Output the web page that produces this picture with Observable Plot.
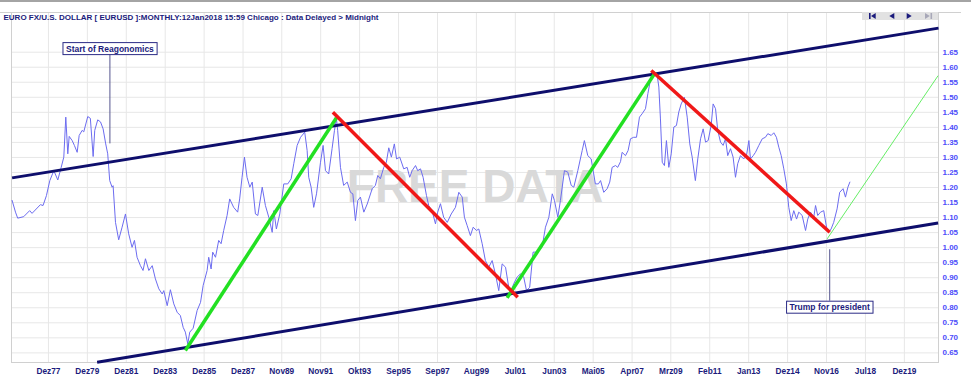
<!DOCTYPE html>
<html><head><meta charset="utf-8">
<script src="https://cdn.jsdelivr.net/npm/d3@7"></script>
<script src="https://cdn.jsdelivr.net/npm/@observablehq/plot@0.6"></script>
<style>
html,body{margin:0;padding:0;background:#fff;overflow:hidden;}
#wrap{position:relative;width:971px;height:390px;}
#wrap svg{display:block;}
.chrome{position:absolute;}
</style></head><body><div id="wrap"></div>
<script>
const title = "EURO FX/U.S. DOLLAR [ EURUSD ]:MONTHLY:12Jan2018 15:59 Chicago : Data Delayed > Midnight";
const watermark = "FREE DATA";

// monthly close (decimal year on the chart's bar axis)
const dataYears = [1976.10,1976.27,1976.38,1976.68,1976.98,1977.10,1977.52,1977.65,1977.82,1977.99,1978.19,1978.39,1978.56,1978.69,1978.79,1978.89,1978.96,1979.11,1979.22,1979.36,1979.46,1979.61,1979.69,1979.89,1980.02,1980.16,1980.24,1980.39,1980.53,1980.66,1980.79,1980.89,1980.99,1981.11,1981.16,1981.28,1981.44,1981.61,1981.78,1981.94,1982.11,1982.23,1982.36,1982.53,1982.66,1982.78,1982.95,1983.12,1983.28,1983.45,1983.62,1983.70,1983.87,1984.03,1984.20,1984.37,1984.53,1984.67,1984.78,1984.90,1985.00,1985.17,1985.37,1985.54,1985.67,1985.87,1985.95,1986.07,1986.15,1986.29,1986.45,1986.57,1986.70,1986.87,1987.00,1987.20,1987.40,1987.50,1987.62,1987.74,1987.87,1988.01,1988.13,1988.29,1988.41,1988.63,1988.79,1988.96,1989.13,1989.21,1989.34,1989.51,1989.71,1989.91,1990.08,1990.21,1990.38,1990.55,1990.76,1990.88,1990.96,1991.08,1991.21,1991.35,1991.55,1991.68,1991.80,1991.96,1992.13,1992.25,1992.35,1992.41,1992.55,1992.71,1992.89,1993.05,1993.17,1993.30,1993.42,1993.55,1993.72,1993.89,1994.14,1994.30,1994.42,1994.55,1994.72,1994.85,1994.97,1995.10,1995.25,1995.36,1995.52,1995.72,1995.89,1996.02,1996.14,1996.31,1996.42,1996.56,1996.69,1996.86,1996.97,1997.14,1997.31,1997.42,1997.56,1997.72,1997.90,1998.10,1998.31,1998.48,1998.65,1998.76,1998.90,1999.06,1999.20,1999.36,1999.48,1999.65,1999.81,1999.98,2000.15,2000.31,2000.48,2000.65,2000.82,2000.98,2001.10,2001.23,2001.40,2001.57,2001.73,2001.87,2002.03,2002.20,2002.40,2002.65,2002.82,2002.99,2003.16,2003.27,2003.44,2003.57,2003.77,2003.94,2004.11,2004.24,2004.44,2004.66,2004.77,2004.94,2005.11,2005.32,2005.47,2005.58,2005.74,2005.91,2006.04,2006.16,2006.33,2006.44,2006.58,2006.66,2006.83,2006.96,2007.08,2007.24,2007.38,2007.53,2007.66,2007.83,2007.95,2008.12,2008.28,2008.42,2008.50,2008.58,2008.67,2008.78,2008.88,2009.00,2009.12,2009.25,2009.38,2009.50,2009.62,2009.78,2009.92,2010.05,2010.17,2010.33,2010.45,2010.59,2010.72,2010.84,2010.97,2011.12,2011.22,2011.34,2011.45,2011.59,2011.72,2011.84,2011.95,2012.09,2012.22,2012.34,2012.45,2012.59,2012.75,2012.89,2013.01,2013.09,2013.23,2013.34,2013.51,2013.68,2013.84,2013.96,2014.13,2014.26,2014.39,2014.51,2014.63,2014.76,2014.89,2015.01,2015.13,2015.26,2015.40,2015.51,2015.68,2015.85,2015.96,2016.10,2016.26,2016.35,2016.46,2016.60,2016.76,2016.90,2017.01,2017.13,2017.26,2017.43,2017.56,2017.73,2017.85,2017.97,2018.07];
const dataValues = [1.157,1.118,1.098,1.103,1.123,1.114,1.143,1.140,1.173,1.223,1.256,1.225,1.267,1.301,1.434,1.312,1.370,1.356,1.340,1.317,1.373,1.390,1.385,1.436,1.430,1.303,1.390,1.425,1.418,1.395,1.345,1.312,1.223,1.201,1.206,1.084,1.026,1.068,1.112,1.046,1.001,1.024,0.968,0.940,0.924,0.963,0.924,0.940,0.896,0.863,0.846,0.857,0.807,0.860,0.813,0.785,0.774,0.735,0.719,0.680,0.719,0.732,0.791,0.818,0.874,0.924,0.968,0.929,0.985,0.968,1.024,1.013,1.057,1.107,1.162,1.134,1.118,1.162,1.234,1.301,1.234,1.201,1.218,1.112,1.107,1.201,1.140,1.101,1.051,1.123,1.062,1.112,1.212,1.212,1.229,1.279,1.340,1.367,1.384,1.323,1.234,1.201,1.134,1.179,1.284,1.340,1.256,1.245,1.329,1.390,1.428,1.390,1.267,1.207,1.218,1.184,1.179,1.090,1.157,1.168,1.118,1.145,1.196,1.207,1.240,1.229,1.267,1.284,1.332,1.301,1.345,1.295,1.301,1.262,1.267,1.234,1.256,1.273,1.256,1.262,1.234,1.173,1.140,1.123,1.079,1.118,1.146,1.101,1.084,1.112,1.134,1.184,1.168,1.101,1.073,1.040,1.068,1.057,1.062,1.013,0.957,0.935,0.957,0.913,0.857,0.946,0.935,0.868,0.857,0.880,0.902,0.913,0.902,0.857,0.868,0.985,0.985,1.001,1.068,1.101,1.179,1.157,1.101,1.157,1.256,1.251,1.207,1.201,1.256,1.323,1.356,1.306,1.295,1.212,1.212,1.223,1.184,1.196,1.218,1.267,1.273,1.267,1.286,1.317,1.306,1.323,1.362,1.367,1.367,1.434,1.445,1.462,1.512,1.572,1.583,1.572,1.534,1.428,1.284,1.273,1.356,1.267,1.312,1.401,1.406,1.451,1.478,1.500,1.434,1.345,1.301,1.223,1.295,1.362,1.395,1.351,1.356,1.406,1.478,1.462,1.390,1.351,1.340,1.362,1.306,1.329,1.301,1.234,1.279,1.306,1.295,1.306,1.356,1.295,1.306,1.317,1.340,1.362,1.367,1.379,1.373,1.382,1.367,1.334,1.306,1.262,1.212,1.134,1.090,1.123,1.095,1.118,1.107,1.057,1.095,1.118,1.101,1.140,1.107,1.118,1.123,1.068,1.051,1.062,1.084,1.129,1.184,1.196,1.168,1.201,1.218];

// x axis: tick positions (chart bar axis) and their labels
const xTickPositions = [1977.92,1979.87,1981.82,1983.77,1985.72,1987.67,1989.61,1991.56,1993.51,1995.46,1997.41,1999.36,2001.31,2003.26,2005.21,2007.16,2009.10,2011.05,2013.00,2014.95,2016.90,2018.85,2020.80];
const xTickLabels = ["Dez77","Dez79","Dez81","Dez83","Dez85","Dez87","Nov89","Nov91","Okt93","Sep95","Sep97","Aug99","Jul01","Jun03","Mai05","Apr07","Mrz09","Feb11","Jan13","Dez14","Nov16","Jul18","Dez19"];
const yTicks = [0.65,0.70,0.75,0.80,0.85,0.90,0.95,1.00,1.05,1.10,1.15,1.20,1.25,1.30,1.35,1.40,1.45,1.50,1.55,1.60,1.65];

// drawn trend lines (start/end: year, value)
const channelLines = [
  {x1:1976.10, y1:1.232, x2:2022.51, y2:1.730},
  {x1:1980.36, y1:0.619, x2:2022.49, y2:1.082}
];
const upTrends = [
  {x1:1984.78, y1:0.658, x2:1992.35, y2:1.432},
  {x1:2000.90, y1:0.833, x2:2008.33, y2:1.583}
];
const downTrends = [
  {x1:1992.17, y1:1.450, x2:2001.43, y2:0.835},
  {x1:2008.12, y1:1.589, x2:2017.06, y2:1.051}
];
const projection = [
  {x1:2016.93, y1:1.029, x2:2022.49, y2:1.572}
];

// annotations
const annotationLabels = ["Start of Reagonomics","Trump for president"];
const annotationYears = [1981.0, 2017.06];
const annotationLabelValues = [1.661, 0.801];
const annotationLineTop = [1.658, 0.993];
const annotationLineBottom = [1.345, 0.822];

const series = dataYears.map((year, i) => ({year, value: dataValues[i]}));
const annotations = annotationLabels.map((label, i) => ({
  label, year: annotationYears[i], labelValue: annotationLabelValues[i],
  top: annotationLineTop[i], bottom: annotationLineBottom[i]
}));
const xLabelMap = new Map(xTickPositions.map((p, i) => [p, xTickLabels[i]]));

const FONT = "'Liberation Sans', Arial, sans-serif";
const NAVY = "#1b1b7c";
const seg = {x1:"x1", y1:"y1", x2:"x2", y2:"y2"};

const chart = Plot.plot({
  width: 971, height: 390,
  marginLeft: 11, marginRight: 33, marginTop: 12, marginBottom: 28,
  style: {fontFamily: FONT, background: "transparent", overflow: "visible"},
  x: {type: "linear", domain: [1976.07, 2022.51]},
  y: {domain: [0.618, 1.782]},
  marks: [
    Plot.ruleY(yTicks, {stroke: "#e7e7e7"}),
    Plot.ruleX(xTickPositions, {stroke: "#e7e7e7"}),
    Plot.frame({stroke: "#d0d0d0"}),
    Plot.text([watermark], {frameAnchor: "middle", text: d => d, fontSize: 46, fontWeight: "bold", fill: "#d9d9d9"}),
    Plot.line(series, {x: "year", y: "value", stroke: "#6c6cf0", strokeWidth: 1}),
    Plot.link(channelLines, {...seg, stroke: "#0e0e6c", strokeWidth: 3}),
    Plot.link(upTrends, {...seg, stroke: "#22e022", strokeWidth: 3.5}),
    Plot.link(downTrends, {...seg, stroke: "#f01818", strokeWidth: 3.5}),
    Plot.link(projection, {...seg, stroke: "#66ee66", strokeWidth: 1}),
    Plot.ruleX(annotations, {x: "year", y1: "top", y2: "bottom", stroke: "#55558f", strokeWidth: 1}),
    Plot.text(annotations, {x: "year", y: "labelValue", text: "label", fontSize: 8.5, fontWeight: "bold", fill: NAVY, ariaDescription: "annotation-labels"}),
    Plot.axisX({ticks: xTickPositions, tickFormat: d => xLabelMap.get(d), tickSize: 0, tickPadding: 6, fontSize: 8.3, fontWeight: "bold", color: NAVY, label: null}),
    Plot.axisY({ticks: yTicks, tickFormat: d => d.toFixed(2), anchor: "right", tickSize: 0, tickPadding: 4, fontSize: 8, fontWeight: "bold", color: "#4d4dfa", label: null}),
    Plot.text([title], {frameAnchor: "top-left", text: d => d, dx: -8, dy: 5.3, lineAnchor: "middle", textAnchor: "start", fontSize: 8, fontWeight: "bold", fill: NAVY})
  ]
});

const wrap = document.getElementById("wrap");
wrap.append(chart);

// boxes behind annotation labels
const svgNS = "http://www.w3.org/2000/svg";
const labelTexts = Array.from(chart.querySelectorAll("text")).filter(t => annotationLabels.includes(t.textContent));
labelTexts.forEach(t => {
  const b = t.getBBox();
  const r = document.createElementNS(svgNS, "rect");
  r.setAttribute("x", b.x - 3);
  r.setAttribute("y", b.y + b.height / 2 - 6);
  r.setAttribute("width", b.width + 6);
  r.setAttribute("height", 12);
  r.setAttribute("fill", "#ffffff");
  r.setAttribute("stroke", "#2b2b86");
  r.setAttribute("stroke-width", 1);
  if (t.getAttribute("transform")) r.setAttribute("transform", t.getAttribute("transform"));
  t.parentNode.insertBefore(r, t);
});

// window chrome: top border, panel line, navigation buttons
function chrome(style) { const d = document.createElement("div"); d.className = "chrome"; Object.assign(d.style, style); wrap.append(d); return d; }
chrome({left: "0px", top: "0px", width: "971px", height: "2px", background: "#a4a4a4"});
chrome({left: "0px", top: "12px", width: "11px", height: "1px", background: "#d0d0d0"});
chrome({left: "938px", top: "12px", width: "23px", height: "1px", background: "#d0d0d0"});
const bar = chrome({left: "862px", top: "12px", width: "76px", height: "8px", background: "#e2e2e2"});
bar.innerHTML = '<svg width="76" height="8" style="display:block">' +
  '<rect x="7" y="1" width="1.6" height="6" fill="#1b1b7c"/><polygon points="13.7,1 13.7,7 9,4" fill="#1b1b7c"/>' +
  '<polygon points="32.3,1 32.3,7 27.3,4" fill="#1b1b7c"/>' +
  '<polygon points="44.7,1 44.7,7 49.7,4" fill="#1b1b7c"/>' +
  '<polygon points="63,1 63,7 67.8,4" fill="#a8a8b8"/><rect x="68.5" y="1" width="1.6" height="6" fill="#a8a8b8"/>' +
  '</svg>';
</script>
</body></html>
